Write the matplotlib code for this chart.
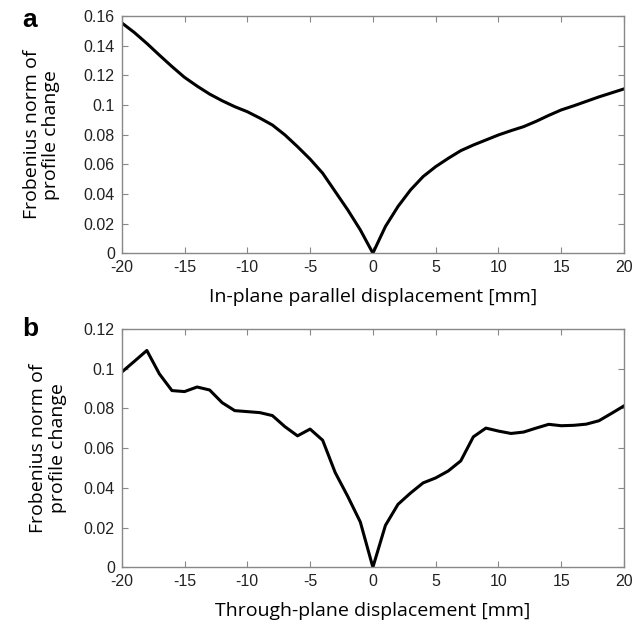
import matplotlib.pyplot as plt

# panel a: in-plane parallel displacement
x_a = [-20, -19, -18, -17, -16, -15, -14, -13, -12, -11, -10, -9, -8, -7, -6, -5,
       -4, -3, -2, -1, 0, 1, 2, 3, 4, 5, 6, 7, 8, 9, 10, 11, 12, 13, 14, 15, 16,
       17, 18, 19, 20]
y_a = [0.1555, 0.149, 0.1416, 0.1337, 0.126, 0.1187, 0.1128, 0.1074, 0.1029,
       0.0989, 0.0955, 0.0912, 0.0865, 0.0798, 0.0719, 0.0635, 0.0540, 0.0416,
       0.0292, 0.0157, 0.0, 0.0180, 0.0315, 0.0427, 0.0517, 0.0584, 0.0640,
       0.0692, 0.0730, 0.0764, 0.0798, 0.0827, 0.0854, 0.0890, 0.0930, 0.0967,
       0.0995, 0.1025, 0.1055, 0.1082, 0.1109]

# panel b: through-plane displacement
x_b = list(range(-20, 21))
y_b = [0.0983, 0.1037, 0.1092, 0.0974, 0.0890, 0.0885, 0.0908, 0.0893, 0.0829,
       0.0789, 0.0784, 0.0779, 0.0764, 0.0708, 0.0662, 0.0696, 0.0640, 0.0477,
       0.0357, 0.0228, 0.0, 0.0211, 0.0317, 0.0374, 0.0425, 0.0450, 0.0485,
       0.0536, 0.0657, 0.0701, 0.0686, 0.0674, 0.0681, 0.0701, 0.0720, 0.0713,
       0.0715, 0.0721, 0.0738, 0.0775, 0.0813]

x_ticks = [-20, -15, -10, -5, 0, 5, 10, 15, 20]
ylabel = 'Frobenius norm of\nprofile change'

fig = plt.figure(figsize=(6.44, 6.22), dpi=100)
ax_a = fig.add_axes([0.189, 0.593, 0.780, 0.381])
ax_b = fig.add_axes([0.189, 0.088, 0.780, 0.383])

panels = [
    (ax_a, x_a, y_a, 0.16, [0, 0.02, 0.04, 0.06, 0.08, 0.1, 0.12, 0.14, 0.16],
     'In-plane parallel displacement [mm]', 'a', 17, 0.987),
    (ax_b, x_b, y_b, 0.12, [0, 0.02, 0.04, 0.06, 0.08, 0.1, 0.12],
     'Through-plane displacement [mm]', 'b', 12, 0.490),
]

for ax, xs, ys, ymax, yticks, xlabel, letter, ypad, letter_y in panels:
    ax.plot(xs, ys, color='black', linewidth=2.2)
    ax.set_xlim(-20, 20)
    ax.set_ylim(0, ymax)
    ax.set_xticks(x_ticks)
    ax.set_xticklabels([str(t) for t in x_ticks])
    ax.set_yticks(yticks)
    ax.set_yticklabels(['0' if t == 0 else f'{t:g}' for t in yticks])
    ax.tick_params(direction='in', length=4, color='#888888', width=0.8,
                   top=True, right=True, labelsize=11.5, pad=5)
    for lab in ax.get_xticklabels() + ax.get_yticklabels():
        lab.set_family('Liberation Sans')
        lab.set_color('#222222')
    for sp in ax.spines.values():
        sp.set_color('#888888')
        sp.set_linewidth(1.0)
    ax.set_xlabel(xlabel, fontsize=14, family='Open Sans', labelpad=9)
    ax.set_ylabel(ylabel, fontsize=14, family='Open Sans', labelpad=ypad,
                  linespacing=1.1)
    fig.text(0.035, letter_y, letter, fontsize=19, fontweight='bold',
             family='Liberation Sans', va='top')

fig.savefig('out.png', dpi=100)
